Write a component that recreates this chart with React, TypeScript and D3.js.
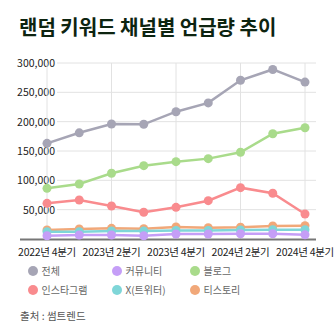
import React from "react";
import * as d3 from "d3";

const categories = [
  "2022년 4분기", "2023년 1분기", "2023년 2분기", "2023년 3분기", "2023년 4분기",
  "2024년 1분기", "2024년 2분기", "2024년 3분기", "2024년 4분기",
];
const tickLabels = ["2022년 4분기", "2023년 2분기", "2023년 4분기", "2024년 2분기", "2024년 4분기"];
const yTicks = [50000, 100000, 150000, 200000, 250000, 300000];

const total = [163000, 181000, 196000, 195500, 217000, 232000, 270500, 289000, 267500];
const community = [5600, 6800, 6800, 5600, 8500, 8500, 9000, 9000, 7300];
const blog = [86400, 93800, 112000, 125000, 131800, 137000, 147800, 179500, 189700];
const instagram = [60800, 66500, 56300, 45500, 54000, 65300, 87500, 77900, 42600];
const twitter = [12500, 12500, 13600, 13600, 14700, 14700, 15300, 15900, 15900];
const tistory = [15300, 17000, 18200, 17600, 20500, 19300, 20000, 22200, 22700];

const seriesNames = ["전체", "커뮤니티", "블로그", "인스타그램", "X(트위터)", "티스토리"];
const seriesColors = ["#a6a5b5", "#c59ef7", "#a9db8b", "#f98b8e", "#7fd6d8", "#f1a879"];
const seriesValues = [total, community, blog, instagram, twitter, tistory];
const drawOrder = [0, 2, 3, 5, 4, 1];

const FONT = "'Noto Sans CJK KR', 'Noto Sans', sans-serif";

export default function App() {
  const x = d3.scalePoint<string>().domain(categories).range([47, 305]);
  const y = d3.scaleLinear().domain([0, 300000]).range([239, 63]);
  const line = d3
    .line<number>()
    .x((_, i) => x(categories[i]) as number)
    .y((d) => y(d));
  const fmt = d3.format(",");

  return (
    <svg width={335} height={335} style={{ position: "absolute", left: 0, top: 0, background: "#fff" }}>
      <text x={19} y={35} fontFamily={FONT} fontWeight={700} fontSize={20} fill="#0d2410">
        랜덤 키워드 채널별 언급량 추이
      </text>
      {yTicks.map((t) => (
        <g key={t}>
          <line x1={57} x2={316} y1={y(t)} y2={y(t)} stroke="#e2e2e2" strokeWidth={1} />
          <text x={55} y={y(t) + 4} textAnchor="end" fontFamily={FONT} fontSize={10.5} fill="#222">
            {fmt(t)}
          </text>
        </g>
      ))}
      {tickLabels.map((c) => (
        <g key={c}>
          <line x1={x(c)} x2={x(c)} y1={63} y2={239} stroke="#e2e2e2" strokeWidth={1} />
          <text x={x(c)} y={256} textAnchor="middle" fontFamily={FONT} fontSize={10.5} letterSpacing={-0.3} fill="#222">
            {c}
          </text>
        </g>
      ))}
      <line x1={20} x2={316} y1={239.5} y2={239.5} stroke="#777" strokeWidth={2} />
      {drawOrder.map((si) => (
        <g key={si}>
          <path d={line(seriesValues[si]) || ""} fill="none" stroke={seriesColors[si]} strokeWidth={2.5} />
          {seriesValues[si].map((v, i) => (
            <circle key={i} cx={x(categories[i])} cy={y(v)} r={4.5} fill={seriesColors[si]} />
          ))}
        </g>
      ))}
      {seriesNames.map((n, i) => {
        const col = i % 3;
        const row = Math.floor(i / 3);
        const cx = [33, 117, 195][col];
        const cy = 271 + row * 19;
        return (
          <g key={n}>
            <circle cx={cx} cy={cy} r={5} fill={seriesColors[i]} />
            <text x={cx + 8.5} y={cy + 4} fontFamily={FONT} fontSize={10} fill="#666">
              {n}
            </text>
          </g>
        );
      })}
      <text x={20} y={320} fontFamily={FONT} fontSize={10.5} fill="#555">
        출처 : 썸트렌드
      </text>
    </svg>
  );
}
